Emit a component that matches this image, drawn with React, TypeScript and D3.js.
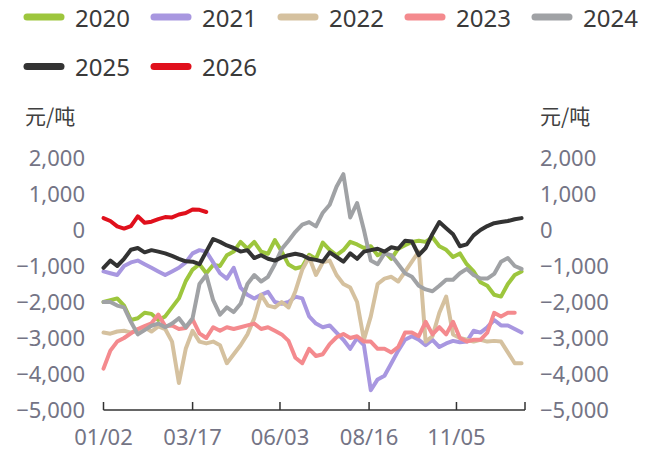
import React from 'react';
import * as d3 from 'd3';

// one point every 4 trading days
const STEP = 4;
const years = ['2020', '2021', '2022', '2023', '2024', '2025', '2026'];
const colors = ['#9dc63d', '#a897e0', '#d5c19f', '#f48a8e', '#a0a2a5', '#333333', '#e0101c'];

const s2020 = [-2000, -1950, -1900, -2100, -2500, -2450, -2300, -2330, -2500, -2400,
  -2150, -1900, -1420, -1100, -950, -1200, -970, -1000, -700, -600,
  -330, -520, -330, -600, -660, -280, -600, -960, -1070, -1020,
  -690, -800, -350, -550, -700, -560, -330, -400, -500, -450,
  -700, -600, -800, -520, -420, -330, -300, -330, -200, -450,
  -550, -750, -650, -950, -1150, -1450, -1550, -1800, -1850, -1500,
  -1250, -1150];
const s2021 = [-1150, -1200, -1250, -1000, -900, -850, -950, -1050, -1150, -1250,
  -1150, -1050, -900, -650, -560, -600, -900, -1200, -1350, -1050,
  -1600, -1800, -1900, -1800, -1720, -2000, -2050, -2000, -1850, -1900,
  -2400, -2600, -2700, -2650, -2850, -3050, -3300, -3000, -3200, -4450,
  -4150, -4050, -3700, -3350, -3050, -2950, -3050, -3200, -3050, -3250,
  -3150, -3080, -3120, -3100, -2800, -2850, -2700, -2500, -2650, -2650,
  -2750, -2850];
const s2022 = [-2850, -2880, -2820, -2800, -2850, -2780, -2700, -2820, -2680, -2750,
  -3100, -4250, -3300, -2800, -3100, -3150, -3100, -3200, -3700, -3450,
  -3200, -2900, -2450, -1800, -2100, -2150, -2000, -2150, -1700, -1100,
  -750, -1250, -900, -850, -1250, -1500, -1600, -2000, -3050, -2400,
  -1500, -1350, -1300, -1430, -1160, -880, -600, -3100, -2950, -2300,
  -1850, -2900, -3000, -3050, -3100, -3050, -3100, -3080, -3100, -3400,
  -3700, -3700];
const s2023 = [-3850, -3350, -3100, -3000, -2870, -2750, -2670, -2590, -2350, -2670,
  -2650, -2750, -2720, -2480, -2870, -3000, -2700, -2800, -2700, -2750,
  -2700, -2650, -2600, -2750, -2700, -2800, -2900, -3080, -3550, -3700,
  -3300, -3500, -3450, -3170, -2980, -2890, -3000, -2950, -3100, -3100,
  -3300, -3300, -3400, -3250, -2850, -2850, -2950, -2550, -2900, -2700,
  -2900, -2550, -3000, -3100, -3050, -3050, -2850, -2300, -2400, -2300,
  -2300];
const s2024 = [-2000, -2000, -2100, -2150, -2550, -2900, -2780, -2660, -2600, -2700,
  -2600, -2450, -2700, -2450, -1500, -1250, -1950, -2350, -2150, -2280,
  -2050, -1500, -1250, -1430, -1300, -950, -530, -300, -50, 150,
  220, 100, 480, 700, 1200, 1550, 350, 750, 0, -850,
  -950, -650, -700, -950, -1200, -1300, -1550, -1650, -1700, -1550,
  -1380, -1380, -1200, -1080, -1250, -1350, -1350, -1220, -880, -780,
  -1000, -1080];
const s2025 = [-1050, -850, -1000, -800, -550, -500, -620, -560, -600, -650,
  -720, -800, -870, -880, -950, -600, -250, -330, -430, -500,
  -600, -560, -780, -700, -800, -850, -760, -700, -660, -700,
  -800, -830, -880, -620, -750, -880, -650, -800, -600, -560,
  -520, -600, -480, -520, -300, -320, -700, -500, -110, 220,
  50, -120, -450, -400, -150, 0, 110, 190, 220, 250,
  300, 330];
const s2026 = [330, 250, 100, 40, 110, 380, 200, 230, 300, 360, 350, 430, 470, 570, 560, 500];

const series = [s2020, s2021, s2022, s2023, s2024, s2025, s2026];

const yTicks = [-5000, -4000, -3000, -2000, -1000, 0, 1000, 2000];
const xTickDays = [0, 52, 103, 155, 206];
const xTickLabels = ['01/02', '03/17', '06/03', '08/16', '11/05'];
const lastDay = 246;

const W = 654;
const H = 452;
const numFont = '"Noto Sans", "DejaVu Sans", sans-serif';
const cjkFont = '"Noto Sans CJK SC", sans-serif';
const labelColor = '#747485';

export default function App() {
  const x = d3.scaleLinear().domain([0, lastDay]).range([103.5, 525]);
  const y = d3.scaleLinear().domain([-5000, 2000]).range([410, 158]);
  const line = d3
    .line<number>()
    .x((_, i) => x(i * STEP))
    .y(d => y(d));
  const fmt = d3.format(',');
  const axisY = y(-5000);

  return (
    <svg width={W} height={H} style={{ position: 'absolute', left: 0, top: 0, background: '#fff' }}>
      {/* legend */}
      {years.map((yr, i) => {
        const lx = 24 + (i % 5) * 127;
        const ly = 17 + Math.floor(i / 5) * 49.5;
        return (
          <g key={yr}>
            <line x1={lx + 3} x2={lx + 37} y1={ly} y2={ly} stroke={colors[i]} strokeWidth={7} strokeLinecap="round" />
            <text x={lx + 51} y={ly} dominantBaseline="central" fontFamily={numFont} fontSize={24} fill="#3a3a3a">
              {yr}
            </text>
          </g>
        );
      })}

      {/* units */}
      <text x={25} y={115} dominantBaseline="central" fontFamily={cjkFont} fontSize={21} fill="#404040">元/吨</text>
      <text x={540} y={115} dominantBaseline="central" fontFamily={cjkFont} fontSize={21} fill="#404040">元/吨</text>

      {/* y labels both sides */}
      {yTicks.map(v => (
        <g key={v}>
          <text x={85} y={y(v) - 1} textAnchor="end" dominantBaseline="central" fontFamily={numFont} fontSize={22} fill={labelColor}>
            {fmt(v)}
          </text>
          <text x={540} y={y(v) - 1} dominantBaseline="central" fontFamily={numFont} fontSize={22} fill={labelColor}>
            {fmt(v)}
          </text>
        </g>
      ))}

      {/* lines */}
      {series.map((s, i) => (
        <path key={years[i]} d={line(s) || ''} fill="none" stroke={colors[i]} strokeWidth={4} strokeLinejoin="round" strokeLinecap="round" />
      ))}

      {/* x axis */}
      <line x1={x(0)} x2={x(lastDay)} y1={axisY} y2={axisY} stroke="#333" strokeWidth={1.5} />
      {[...xTickDays, lastDay].map(d => (
        <line key={d} x1={x(d)} x2={x(d)} y1={axisY} y2={axisY - 8} stroke="#333" strokeWidth={1.5} />
      ))}
      {xTickDays.map((d, i) => (
        <text key={d} x={x(d)} y={436} textAnchor="middle" dominantBaseline="central" fontFamily={numFont} fontSize={22} fill={labelColor}>
          {xTickLabels[i]}
        </text>
      ))}
    </svg>
  );
}
